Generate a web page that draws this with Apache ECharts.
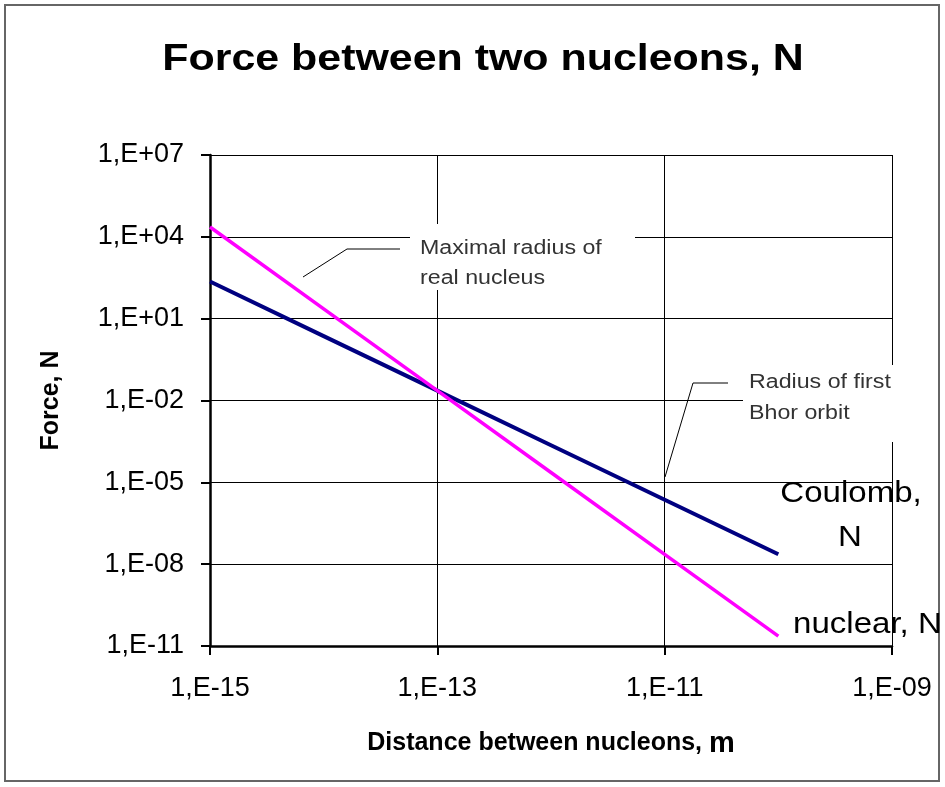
<!DOCTYPE html>
<html><head><meta charset="utf-8">
<script src="https://cdn.jsdelivr.net/npm/echarts@6/dist/echarts.min.js"></script>
<style>html,body{margin:0;padding:0;background:#fff}#c{width:945px;height:787px}</style>
</head><body><div id="c"></div>
<script>
// ---- data ----
const distances    = [1e-15, 1e-14, 1e-13, 1e-12, 1e-11, 1e-10];      // m
const coulombForce = [230, 2.3, 0.023, 2.3e-4, 2.3e-6, 2.3e-8];        // N
const nuclearForce = [2.3e4, 23, 0.023, 2.3e-5, 2.3e-8, 2.3e-11];      // N
const xTickExponents = [-15, -13, -11, -9];
const yTickExponents = [-11, -8, -5, -2, 1, 4, 7];
const titleText = 'Force between two nucleons, N';
const xAxisTitle = 'Distance between nucleons, ';
const xAxisUnit = 'm';
const yAxisTitle = 'Force, N';
const coulombLabel = ['Coulomb,', 'N'];
const nuclearLabel = 'nuclear, N';
const note1 = ['Maximal radius of', 'real nucleus'];
const note2 = ['Radius of first', 'Bhor orbit'];

const FONT = '"Liberation Sans", Arial, sans-serif';
function fmtExp(e) {
  const a = Math.abs(e);
  return '1,E' + (e < 0 ? '-' : '+') + (a < 10 ? '0' + a : '' + a);
}
function toLog(xs, ys) { return xs.map((x, i) => [Math.log10(x), Math.log10(ys[i])]); }

const chart = echarts.init(document.getElementById('c'), null, {renderer: 'canvas'});

function txt(x, y, text, size, opts) {
  opts = opts || {};
  return {
    type: 'text', x: x, y: y, z: 110, scaleX: opts.scaleX || 1,
    style: {
      x: 0, y: 0, text: text, fill: opts.color || '#000',
      font: (opts.bold ? 'bold ' : '') + size + 'px ' + FONT,
      align: opts.align || 'left', verticalAlign: 'middle'
    }
  };
}

const option = {
  backgroundColor: '#fff',
  animation: false,
  grid: {left: 210, right: 53, top: 155, bottom: 141, containLabel: false},
  xAxis: {
    type: 'value',
    min: xTickExponents[0], max: xTickExponents[xTickExponents.length - 1],
    interval: xTickExponents[1] - xTickExponents[0],
    axisLine: {show: true, onZero: false, lineStyle: {color: '#000', width: 2.5}},
    axisTick: {show: true, inside: false, length: 9, lineStyle: {color: '#000', width: 2}},
    splitLine: {show: true, lineStyle: {color: '#000', width: 1}},
    axisLabel: {formatter: v => fmtExp(v), fontSize: 27, fontFamily: FONT, color: '#000', margin: 29},
    name: xAxisTitle + '{m|' + xAxisUnit + '}', nameLocation: 'middle', nameGap: 83,
    nameTextStyle: {fontSize: 25, fontWeight: 'bold', fontFamily: FONT, color: '#000',
      rich: {m: {fontSize: 29, fontWeight: 'bold', fontFamily: FONT, color: '#000'}}}
  },
  yAxis: {
    type: 'value',
    min: yTickExponents[0], max: yTickExponents[yTickExponents.length - 1],
    interval: yTickExponents[1] - yTickExponents[0],
    axisLine: {show: true, onZero: false, lineStyle: {color: '#000', width: 2.5}},
    axisTick: {show: true, inside: false, length: 9, lineStyle: {color: '#000', width: 2}},
    splitLine: {show: true, lineStyle: {color: '#000', width: 1}},
    axisLabel: {formatter: v => fmtExp(v), fontSize: 27, fontFamily: FONT, color: '#000', margin: 26},
    name: yAxisTitle, nameLocation: 'middle', nameGap: 146, nameRotate: 90,
    nameTextStyle: {fontSize: 25, fontWeight: 'bold', fontFamily: FONT, color: '#000'}
  },
  series: [
    {name: coulombLabel.join(' '), type: 'line', data: toLog(distances, coulombForce),
     showSymbol: false, lineStyle: {color: '#000080', width: 4}, z: 3},
    {name: nuclearLabel, type: 'line', data: toLog(distances, nuclearForce),
     showSymbol: false, lineStyle: {color: '#FF00FF', width: 3.5}, z: 4}
  ],
  graphic: [
    {type: 'rect', z: 100, shape: {x: 5, y: 5, width: 934, height: 776},
     style: {fill: null, stroke: '#666', lineWidth: 2}},
    txt(483, 60, titleText, 37, {bold: true, align: 'center', scaleX: 1.16}),
    // annotation 1
    {type: 'rect', z: 105, shape: {x: 410, y: 224, width: 225, height: 66}, style: {fill: '#fff', stroke: null}},
    {type: 'polyline', z: 105, shape: {points: [[303, 277], [347, 249], [400, 249]]},
     style: {stroke: '#000', lineWidth: 1, fill: null}},
    txt(420, 248, note1[0], 20, {color: '#333', scaleX: 1.16}),
    txt(420, 278, note1[1], 20, {color: '#333', scaleX: 1.16}),
    // annotation 2
    {type: 'rect', z: 105, shape: {x: 743, y: 365, width: 162, height: 77}, style: {fill: '#fff', stroke: null}},
    {type: 'polyline', z: 105, shape: {points: [[665, 477], [693, 383], [728, 383]]},
     style: {stroke: '#000', lineWidth: 1, fill: null}},
    txt(749, 382, note2[0], 20, {color: '#333', scaleX: 1.16}),
    txt(749, 413, note2[1], 20, {color: '#333', scaleX: 1.16}),
    // series labels
    txt(851, 494, coulombLabel[0], 29, {align: 'center', scaleX: 1.14}),
    txt(850, 538, coulombLabel[1], 29, {align: 'center', scaleX: 1.14}),
    txt(793, 625, nuclearLabel, 29, {scaleX: 1.14})
  ]
};
chart.setOption(option);
</script>
</body></html>
